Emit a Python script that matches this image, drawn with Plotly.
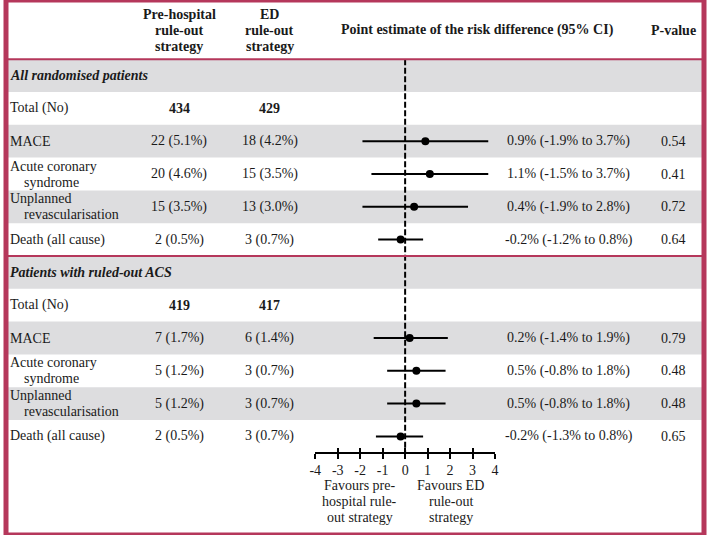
import plotly.graph_objects as go

W, H = 708, 535
FONT = "Liberation Serif"
TXT = "#1a1a1a"
CRIMSON = "#b5375b"
GRAY = "#dddddf"

# ---------------- data ----------------
section_titles = ["All randomised patients", "Patients with ruled-out ACS"]
outcome_lines = [["MACE"], ["Acute coronary", "syndrome"],
                 ["Unplanned", "revascularisation"], ["Death (all cause)"]]
total_pre = [434, 419]
total_ed = [429, 417]

n_pre_all = [22, 20, 15, 2]
pct_pre_all = [5.1, 4.6, 3.5, 0.5]
n_ed_all = [18, 15, 13, 3]
pct_ed_all = [4.2, 3.5, 3.0, 0.7]

n_pre_ro = [7, 5, 5, 2]
pct_pre_ro = [1.7, 1.2, 1.2, 0.5]
n_ed_ro = [6, 3, 3, 3]
pct_ed_ro = [1.4, 0.7, 0.7, 0.7]

est_all = [0.9, 1.1, 0.4, -0.2]
lo_all = [-1.9, -1.5, -1.9, -1.2]
hi_all = [3.7, 3.7, 2.8, 0.8]
p_all = ["0.54", "0.41", "0.72", "0.64"]

est_ro = [0.2, 0.5, 0.5, -0.2]
lo_ro = [-1.4, -0.8, -0.8, -1.3]
hi_ro = [1.9, 1.8, 1.8, 0.8]
p_ro = ["0.79", "0.48", "0.48", "0.65"]

tick_vals = [-4, -3, -2, -1, 0, 1, 2, 3, 4]
tick_text = ["-4", "-3", "-2", "-1", "0", "1", "2", "3", "4"]
col_headers = [["Pre-hospital", "rule-out", "strategy"], ["ED", "rule-out", "strategy"]]
plot_header = "Point estimate of the risk difference (95% CI)"
p_header = "P-value"
favours_left = ["Favours pre-", "hospital rule-", "out strategy"]
favours_right = ["Favours ED", "rule-out", "strategy"]

# ---------------- layout geometry ----------------
ROW0 = 75.6      # pixel centre of first row
ROWH = 32.8      # row height in pixels


def py(px):
    """pixel y -> row units"""
    return (px - ROW0) / ROWH


def xp(px):
    return px / W


X_LABEL = 3
X_INDENT = 17
X_PRE = 175.5
X_ED = 267.5
X_CI = 571
X_P = 677
AX_LEFT, AX_RIGHT = 313.7, 496
AX_Y = 452.5

sections = [
    dict(title=section_titles[0], start=0, tp=total_pre[0], te=total_ed[0],
         npre=n_pre_all, ppre=pct_pre_all, ned=n_ed_all, ped=pct_ed_all,
         est=est_all, lo=lo_all, hi=hi_all, p=p_all),
    dict(title=section_titles[1], start=6, tp=total_pre[1], te=total_ed[1],
         npre=n_pre_ro, ppre=pct_pre_ro, ned=n_ed_ro, ped=pct_ed_ro,
         est=est_ro, lo=lo_ro, hi=hi_ro, p=p_ro),
]

fig = go.Figure()
annotations = []
shapes = []


def ann(text, x, y, xanchor="center", yshift=0, bold=False, italic=False, yref="y"):
    if italic:
        text = f"<i>{text}</i>"
    if bold:
        text = f"<b>{text}</b>"
    annotations.append(dict(text=text, x=x, y=y, xref="paper", yref=yref,
                            xanchor=xanchor, yanchor="middle", yshift=yshift,
                            showarrow=False, borderpad=0,
                            font=dict(family=FONT, size=14, color=TXT)))


# header
for i, lines in enumerate(col_headers):
    xc = [X_PRE, X_ED][i]
    for j, t in enumerate(lines):
        ann(t, xp(xc), py(14 + 16 * j), bold=True)
ann(plot_header, xp(478.5), py(30), bold=True)
ann(p_header, xp(X_P), py(30), bold=True)

# grey bands
for r in [0, 2, 4, 6, 8, 10]:
    shapes.append(dict(type="rect", xref="paper", yref="y", x0=0, x1=1,
                       y0=r - 0.5, y1=r + 0.5, fillcolor=GRAY,
                       line=dict(width=0), layer="below"))

for s in sections:
    r0 = s["start"]
    ann(s["title"], xp(X_LABEL), r0, xanchor="left", bold=True, italic=True)
    ann("Total (No)", xp(X_LABEL), r0 + 1, xanchor="left")
    ann(str(s["tp"]), xp(X_PRE), r0 + 1, bold=True)
    ann(str(s["te"]), xp(X_ED), r0 + 1, bold=True)
    rows = [r0 + 2 + k for k in range(4)]
    for k, r in enumerate(rows):
        lines = outcome_lines[k]
        if len(lines) == 1:
            ann(lines[0], xp(X_LABEL), r, xanchor="left")
        else:
            ann(lines[0], xp(X_LABEL), r, xanchor="left", yshift=8)
            ann(lines[1], xp(X_INDENT), r, xanchor="left", yshift=-8)
        ann(f"{s['npre'][k]} ({s['ppre'][k]:.1f}%)", xp(X_PRE), r)
        ann(f"{s['ned'][k]} ({s['ped'][k]:.1f}%)", xp(X_ED), r)
        ann(f"{s['est'][k]:.1f}% ({s['lo'][k]:.1f}% to {s['hi'][k]:.1f}%)", xp(X_CI), r)
        ann(s["p"][k], xp(X_P), r)
    fig.add_trace(go.Scatter(
        x=s["est"], y=rows, mode="markers",
        marker=dict(color="black", size=8),
        error_x=dict(type="data", symmetric=False,
                     array=[h - e for h, e in zip(s["hi"], s["est"])],
                     arrayminus=[e - l for e, l in zip(s["est"], s["lo"])],
                     width=0, thickness=2, color="black"),
        hoverinfo="skip", showlegend=False))

# dummy trace for the overlay axis (inside tick marks)
fig.add_trace(go.Scatter(x=[0], y=[0], xaxis="x2", mode="markers",
                         marker=dict(opacity=0), hoverinfo="skip", showlegend=False))

# favours text
for j, t in enumerate(favours_left):
    ann(t, xp(359), py(485.5 + 15.8 * j))
for j, t in enumerate(favours_right):
    ann(t, xp(451), py(485.5 + 15.8 * j))

# zero line
shapes.append(dict(type="line", xref="x", yref="y", x0=0, x1=0, y0=-0.5, y1=11.5,
                   line=dict(color="black", width=2, dash="6px,2.5px")))
# separators
for yy in [-0.5, 5.5]:
    shapes.append(dict(type="line", xref="paper", yref="y", x0=0, x1=1, y0=yy, y1=yy,
                       line=dict(color=CRIMSON, width=2)))
# outer border
shapes.append(dict(type="rect", xref="paper", yref="paper", x0=0, x1=1, y0=0, y1=1,
                   line=dict(color=CRIMSON, width=5)))

axis_common = dict(domain=[xp(AX_LEFT), xp(AX_RIGHT)], range=[-4, 4],
                   anchor="free", position=1 - AX_Y / H,
                   tickvals=tick_vals, ticktext=tick_text, tickmode="array",
                   ticklen=5, tickwidth=2, tickcolor="black",
                   showgrid=False, zeroline=False, fixedrange=True)

fig.update_layout(
    width=W, height=H,
    margin=dict(l=0, r=0, t=0, b=0),
    paper_bgcolor="white", plot_bgcolor="rgba(0,0,0,0)",
    xaxis=dict(**axis_common, ticks="outside", showline=True, linecolor="black",
               linewidth=2, tickfont=dict(family=FONT, size=14, color=TXT)),
    xaxis2=dict(**axis_common, overlaying="x", ticks="inside", showline=False,
                showticklabels=False),
    yaxis=dict(domain=[0, 1], range=[(H - ROW0) / ROWH, -ROW0 / ROWH],
               visible=False, fixedrange=True),
    annotations=annotations, shapes=shapes,
    showlegend=False,
)

fig.write_html("out.html", config={"displayModeBar": False},
               post_script="document.body.style.margin='0';document.body.style.overflow='hidden';")
